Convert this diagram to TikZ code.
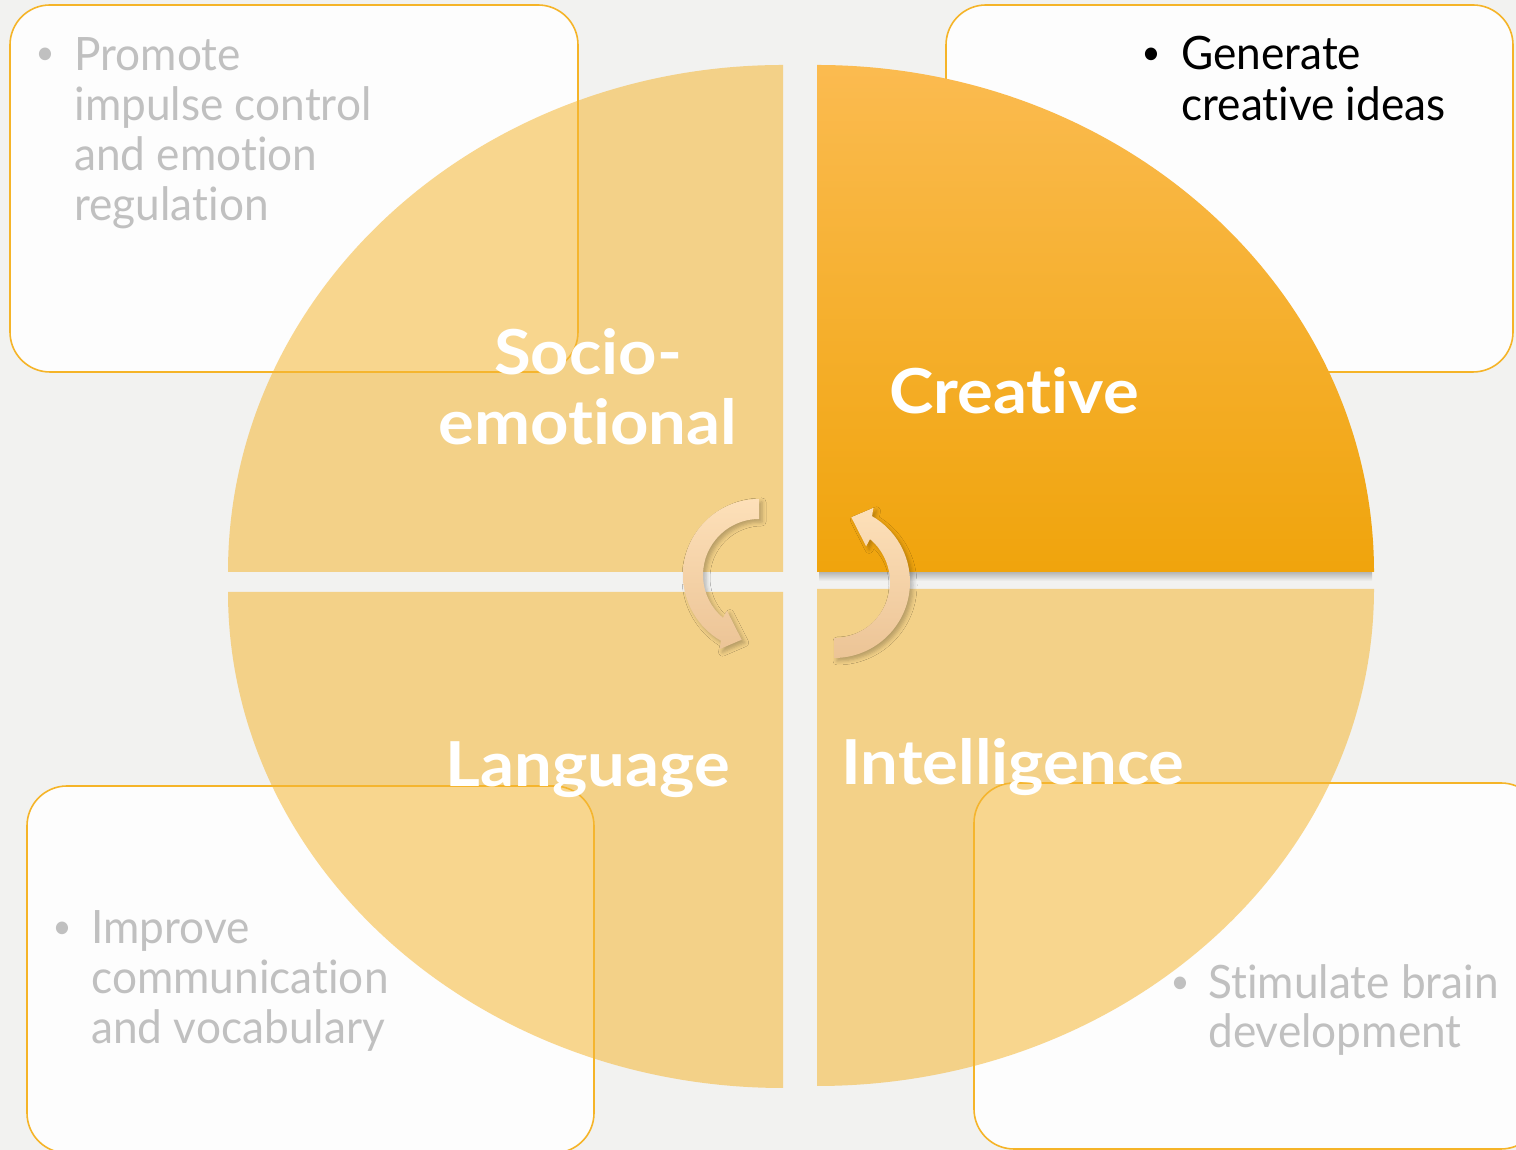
\documentclass[tikz,border=0pt]{standalone}
\usepackage{fontspec}
\setmainfont{Lato}[Ligatures=NoCommon, FakeStretch=0.96]
\newfontfamily\headfont{Lato}[Ligatures=NoCommon, FakeStretch=1.08]
\usetikzlibrary{calc,shadows.blur}

\definecolor{bg}{RGB}{242,242,240}
\definecolor{quad}{RGB}{245,183,52}
\definecolor{frame}{RGB}{245,180,40}
\definecolor{cardfill}{RGB}{253,253,253}
\definecolor{muted}{RGB}{192,192,192}
\definecolor{crtop}{RGB}{251,187,80}
\definecolor{crmid}{RGB}{254,183,28}
\definecolor{crbot}{RGB}{240,164,12}
\definecolor{arrtop}{RGB}{253,224,185}
\definecolor{arrbot}{RGB}{236,196,150}

\begin{document}
\begin{tikzpicture}[x=0.5pt,y=0.5pt,
  card/.style={draw=frame, line width=0.8pt, fill=cardfill, rounded corners=20pt},
  pie/.style={fill=quad, fill opacity=0.55},
  pointtext/.style={anchor=base west, inner sep=0, font=\fontsize{23}{25}\selectfont},
  dot/.style={anchor=center, inner sep=0, font=\fontsize{17}{20}\selectfont},
  heading/.style={anchor=base, text=white, inner sep=0, font=\headfont\bfseries\fontsize{31}{35}\selectfont},
  turn/.style={top color=arrtop, bottom color=arrbot,
    blur shadow={shadow xshift=1.5pt, shadow yshift=-1.5pt, shadow blur radius=2pt, shadow opacity=25}}
]
\fill[bg] (0,0) rectangle (1516,1150);
\useasboundingbox (0,0) rectangle (1516,1150);

% note cards
\draw[card] (10,778) rectangle (578,1145);
\draw[card] (946,778) rectangle (1513,1145);
\draw[card] (27,-3) rectangle (594,364);
\draw[card] (974,1) rectangle (1541,367);

% translucent quarter pies
\path[pie] (783,578) -- (228,578) arc[start angle=180,end angle=90,x radius=555,y radius=507] -- cycle;
\path[pie] (783,558) -- (228,558) arc[start angle=180,end angle=270,x radius=555,y radius=496] -- cycle;
\path[pie] (817,561) -- (1374,561) arc[start angle=0,end angle=-90,x radius=557,y radius=497] -- cycle;
% shadow under the highlighted quarter
\shade[top color=black!25!bg, bottom color=bg] (819,569) rectangle (1372,578);
% highlighted quarter
\shade[top color=crtop, middle color=crmid, bottom color=crbot]
  (817,578) -- (1374,578) arc[start angle=0,end angle=90,x radius=557,y radius=507] -- cycle;

% quarter headings
\node[heading] (socio) at (588,775) {Socio-};
\node[heading] (emo) at (588,705) {emotional};
\node[heading] (crea) at (1014,736) {Creative};
\node[heading] (lang) at (588,363) {Language};
\node[heading] (intel) at (1013,365) {Intelligence};

% card texts
\node[dot, text=muted] (tlb) at (45,1094) {•};
\node[pointtext, text=muted] (tl1) at (74,1079) {Promote};
\node[pointtext, text=muted] (tl2) at (74,1029) {impulse control};
\node[pointtext, text=muted] (tl3) at (74,979) {and emotion};
\node[pointtext, text=muted] (tl4) at (74,929) {regulation};

\node[dot, text=black] (trb) at (1151,1094) {•};
\node[pointtext, text=black] (tr1) at (1181,1080) {Generate};
\node[pointtext, text=black] (tr2) at (1181,1029) {creative ideas};

\node[dot, text=muted] (blb) at (62,220) {•};
\node[pointtext, text=muted] (bl1) at (91,206) {Improve};
\node[pointtext, text=muted] (bl2) at (91,156) {communication};
\node[pointtext, text=muted] (bl3) at (91,106) {and vocabulary};

\node[dot, text=muted] (brb) at (1180,165) {•};
\node[pointtext, text=muted] (br1) at (1208,151) {Stimulate brain};
\node[pointtext, text=muted] (br2) at (1208,102) {development};

% circular arrows
\coordinate (cl) at (759,575);
\coordinate (cr) at (834,568);
\shade[turn] ($(cl)+(90:76)$) arc[start angle=90,end angle=240,radius=76]
  -- ($(cl)+(242:84)$) -- ($(cl)+(255:67)$) -- ($(cl)+(228:48)$) -- ($(cl)+(230:56)$)
  arc[start angle=230,end angle=90,radius=56] -- cycle;
\shade[turn] ($(cr)+(270:76)$) arc[start angle=270,end angle=420,radius=76]
  -- ($(cr)+(62:84)$) -- ($(cr)+(75:67)$) -- ($(cr)+(48:48)$) -- ($(cr)+(50:56)$)
  arc[start angle=50,end angle=-90,radius=56] -- cycle;
\end{tikzpicture}
\end{document}
